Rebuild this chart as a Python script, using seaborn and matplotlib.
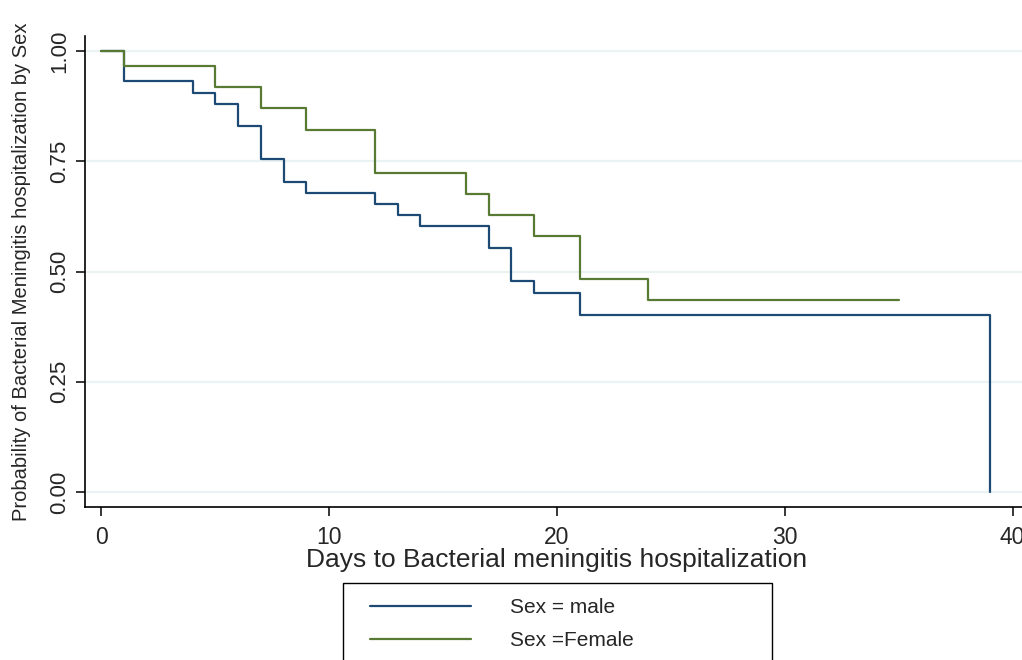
import numpy as np
import pandas as pd
import matplotlib
matplotlib.use("Agg")
import matplotlib.pyplot as plt
from matplotlib.patches import Rectangle
import seaborn as sns

# Kaplan-Meier step values
male_days = [0, 1, 4, 5, 6, 7, 8, 9, 12, 13, 14, 17, 18, 19, 21, 39]
male_surv = [1.0, 0.932, 0.905, 0.880, 0.830, 0.755, 0.703, 0.678, 0.653,
             0.628, 0.603, 0.553, 0.478, 0.452, 0.401, 0.0]
female_days = [0, 1, 5, 7, 9, 12, 16, 17, 19, 21, 24, 35]
female_surv = [1.0, 0.967, 0.918, 0.870, 0.821, 0.724, 0.676, 0.628, 0.580,
               0.483, 0.435, 0.435]
labels = ["Sex = male", "Sex =Female"]
colors = ["#1d4a74", "#587a32"]

df = pd.concat([
    pd.DataFrame({"day": male_days, "surv": male_surv, "sex": labels[0]}),
    pd.DataFrame({"day": female_days, "surv": female_surv, "sex": labels[1]}),
])

sns.set_style("white")
plt.rcParams["font.family"] = ["Liberation Sans", "DejaVu Sans"]

W, H = 1022, 660
fig = plt.figure(figsize=(W / 100, H / 100), dpi=100)
ax = fig.add_axes([85 / W, 1 - 507 / H, 1 - 85 / W, (507 - 36) / H])

sns.lineplot(data=df, x="day", y="surv", hue="sex", palette=colors,
             drawstyle="steps-post", estimator=None, sort=False,
             linewidth=1.6, legend=False, ax=ax)

ax.set_xlim(-0.72, 40.41)
ax.set_ylim(-0.034, 1.034)
ax.set_xticks([0, 10, 20, 30, 40])
ax.set_yticks([0, 0.25, 0.5, 0.75, 1.0])
ax.set_yticklabels(["0.00", "0.25", "0.50", "0.75", "1.00"], rotation=90, va="center")
ax.yaxis.grid(True, color="#eaf2f3", linewidth=1.6)
ax.set_axisbelow(True)

for s in ["top", "right"]:
    ax.spines[s].set_visible(False)
for s in ["left", "bottom"]:
    ax.spines[s].set_color("black")
    ax.spines[s].set_linewidth(1.2)

ax.tick_params(axis="both", direction="out", length=6.5, width=1.1, color="black",
               labelsize=16, left=True, bottom=True)
ax.tick_params(axis="x", pad=7, labelsize=16.5)
ax.tick_params(axis="y", pad=4)
ax.set_xlabel("Days to Bacterial meningitis hospitalization", fontsize=19)
ax.xaxis.set_label_coords(0.5037, -0.087)
ax.set_ylabel("Probability of Bacterial Meningitis hospitalization by Sex",
              fontsize=14.5)
ax.yaxis.set_label_coords(-0.0576, 0.5)

# legend box (runs off the bottom edge like the original)
fig.patches.append(Rectangle((343 / W, 1 - 668 / H), (772 - 343) / W, (668 - 583) / H,
                             transform=fig.transFigure, fill=False,
                             edgecolor="black", linewidth=1.0))
handles = ax.get_lines()[:2]
fig.legend(handles, labels, loc="upper left",
           bbox_to_anchor=(370 / W, 1 - 598 / H),
           frameon=False, fontsize=15,
           handlelength=4.86, handletextpad=1.85, labelspacing=0.68,
           borderpad=0, borderaxespad=0)

fig.savefig("out.png", dpi=100)
